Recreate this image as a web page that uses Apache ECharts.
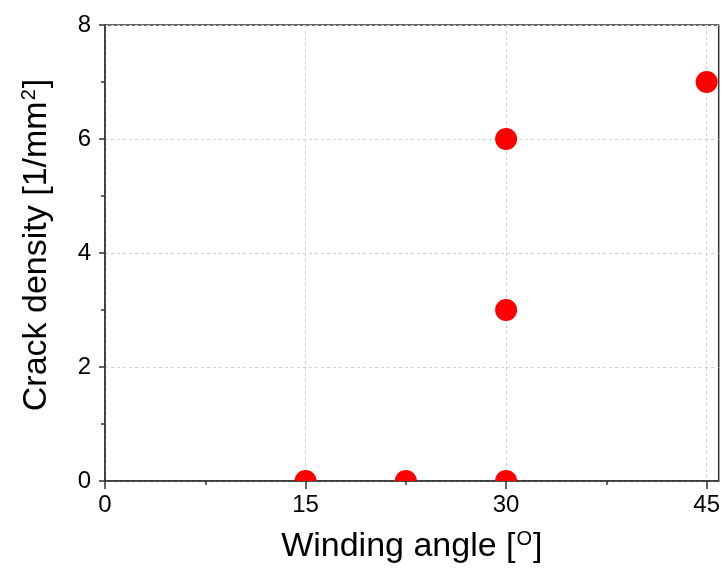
<!DOCTYPE html>
<html>
<head>
<meta charset="utf-8">
<script src="https://cdn.jsdelivr.net/npm/echarts@6/dist/echarts.min.js"></script>
<style>html,body{margin:0;padding:0;background:#fff}#c{width:723px;height:574px}</style>
</head>
<body>
<div id="c"></div>
<script>
var windingAngle = [15, 22.5, 30, 30, 30, 45];
var crackDensity = [0, 0, 0, 3, 6, 7];
var xTicks = [0, 15, 30, 45];
var yTicks = [0, 2, 4, 6, 8];

var pts = windingAngle.map(function (x, i) { return [x, crackDensity[i]]; });
var chart = echarts.init(document.getElementById('c'));
var font = 'Liberation Sans, Arial, sans-serif';
var supStyle = { fontFamily: font, fontSize: 20, color: '#000', verticalAlign: 'top', padding: [0, 1, 16, 1] };
chart.setOption({
  animation: false,
  grid: { left: 105, top: 25, right: 4, bottom: 93, show: true, borderColor: '#333', borderWidth: 1.5, backgroundColor: 'transparent' },
  xAxis: {
    type: 'value', min: 0, max: 45.9, interval: 15,
    name: 'Winding angle [{sup|O}]', nameLocation: 'middle', nameGap: 48,
    nameTextStyle: { fontFamily: font, fontSize: 34, color: '#000', rich: { sup: supStyle } },
    axisLine: { show: true, onZero: false, lineStyle: { color: '#333', width: 1.5 } },
    axisTick: { show: true, inside: false, length: 8, lineStyle: { color: '#333', width: 1.5 }, customValues: xTicks },
    minorTick: { show: true, splitNumber: 2, length: 4, lineStyle: { color: '#333', width: 1.5 } },
    axisLabel: { fontFamily: font, fontSize: 24, color: '#000', margin: 12, customValues: xTicks },
    splitLine: { show: true, lineStyle: { color: '#d0d0d0', type: [3, 3], width: 1 } }
  },
  yAxis: {
    type: 'value', min: 0, max: 8, interval: 2,
    name: 'Crack density [1/mm{sup|2}]', nameLocation: 'middle', nameGap: 50,
    nameTextStyle: { fontFamily: font, fontSize: 34, color: '#000', padding: [0, 0, 0, 16], rich: { sup: supStyle } },
    axisLine: { show: true, onZero: false, lineStyle: { color: '#333', width: 1.5 } },
    axisTick: { show: true, inside: false, length: 6, lineStyle: { color: '#333', width: 1.5 } },
    minorTick: { show: true, splitNumber: 2, length: 4, lineStyle: { color: '#333', width: 1.5 } },
    axisLabel: { fontFamily: font, fontSize: 24, color: '#000', margin: 14, formatter: function (v) { return yTicks.indexOf(v) >= 0 ? String(v) : ''; } },
    splitLine: { show: true, lineStyle: { color: '#d0d0d0', type: [3, 3], width: 1 } }
  },
  series: [{
    type: 'custom', data: pts, clip: true, encode: { x: 0, y: 1 },
    renderItem: function (params, api) {
      var p = api.coord([api.value(0), api.value(1)]);
      return { type: 'circle', shape: { cx: p[0], cy: p[1], r: 11 }, style: { fill: '#ff0000' } };
    }
  }]
});
</script>
</body>
</html>
